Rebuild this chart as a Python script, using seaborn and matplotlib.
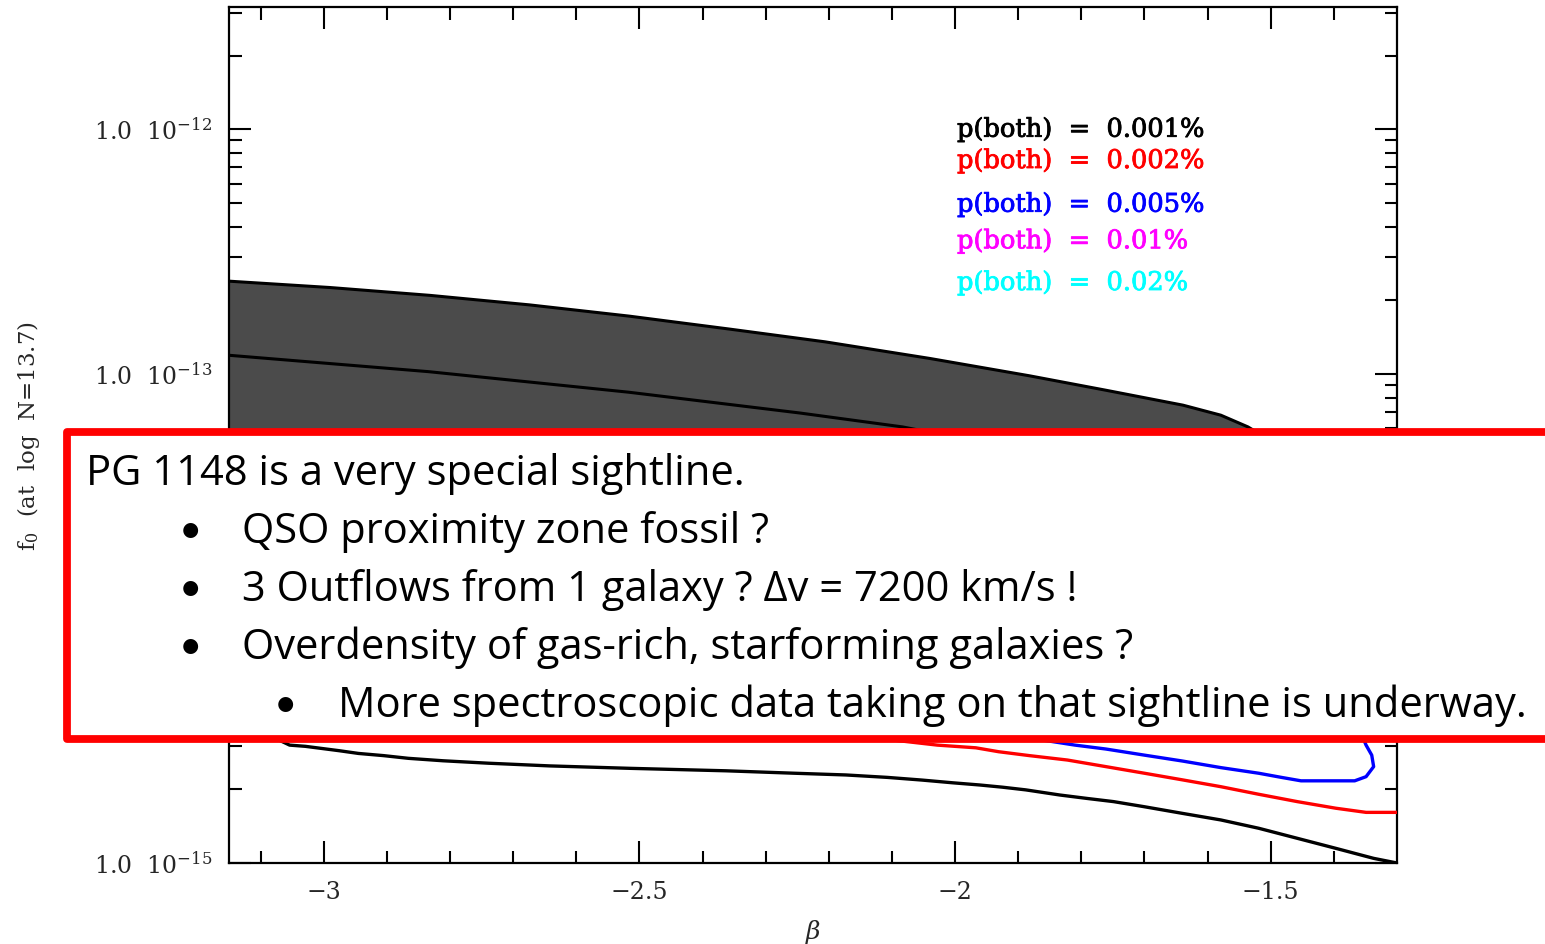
import numpy as np
import pandas as pd
import matplotlib
matplotlib.use("Agg")
import matplotlib.pyplot as plt
import matplotlib.patheffects as pe
import seaborn as sns
from matplotlib.patches import Rectangle
from matplotlib.ticker import FixedLocator, FuncFormatter, NullFormatter

# ---- data (beta, log10 f0) ----
# shaded band: upper edge and its floor
band_beta = [-3.150, -2.990, -2.832, -2.674, -2.516, -2.357, -2.206, -2.040, -1.882, -1.761,
             -1.639, -1.579, -1.536, -1.45, -1.30]
band_upper_log = [-12.621, -12.647, -12.679, -12.718, -12.764, -12.817, -12.869, -12.937, -13.008,
                  -13.067, -13.128, -13.169, -13.217, -13.35, -13.60]
band_floor_log = [-14.0] * len(band_beta)

# line inside the band
inner_beta = [-3.150, -2.834, -2.517, -2.246, -2.083, -1.80, -1.30]
inner_log = [-12.924, -12.991, -13.075, -13.160, -13.217, -13.36, -13.75]

# probability contours
black_beta = [-3.15, -3.054, -3.029, -3.005, -2.975, -2.945, -2.905, -2.866, -2.811, -2.739,
              -2.642, -2.514, -2.363, -2.254, -2.173, -2.107, -2.052, -2.004, -1.961, -1.925,
              -1.888, -1.834, -1.791, -1.749, -1.700, -1.640, -1.579, -1.519, -1.458, -1.397,
              -1.337, -1.300]
black_log = [-14.40, -14.518, -14.523, -14.531, -14.541, -14.552, -14.561, -14.572, -14.582, -14.592,
             -14.603, -14.613, -14.623, -14.633, -14.640, -14.650, -14.661, -14.672, -14.681, -14.690,
             -14.701, -14.722, -14.736, -14.749, -14.770, -14.797, -14.824, -14.858, -14.899, -14.940,
             -14.981, -15.000]

red_beta = [-2.167, -2.028, -1.967, -1.931, -1.882, -1.822, -1.761, -1.700, -1.640, -1.579,
            -1.519, -1.458, -1.397, -1.349, -1.300]
red_log = [-14.477, -14.518, -14.529, -14.545, -14.561, -14.579, -14.606, -14.633, -14.660, -14.688,
           -14.719, -14.749, -14.776, -14.793, -14.793]

blue_beta = [-1.929, -1.810, -1.761, -1.700, -1.640, -1.579, -1.519, -1.483, -1.452, -1.367,
             -1.349, -1.337, -1.340, -1.349, -1.359]
blue_log = [-14.47, -14.518, -14.534, -14.559, -14.583, -14.610, -14.633, -14.650, -14.664, -14.664,
            -14.647, -14.606, -14.559, -14.518, -14.457]

legend_labels = ["p(both)  =  0.001%", "p(both)  =  0.002%", "p(both)  =  0.005%",
                 "p(both)  =  0.01%", "p(both)  =  0.02%"]
legend_colors = ["#000000", "#ff0000", "#0000ff", "#ff00ff", "#00ffff"]

x_ticks = [-3.0, -2.5, -2.0, -1.5]
x_ticklabels = ["\u22123", "\u22122.5", "\u22122", "\u22121.5"]
x_minor = [-3.1, -2.9, -2.8, -2.7, -2.6, -2.4, -2.3, -2.2, -2.1, -1.9, -1.8, -1.7, -1.6, -1.4]
y_decades = [-15, -14, -13, -12]
y_labelled = [-15, -13, -12]   # the 1e-14 label sits behind the note box

box_title = "PG 1148 is a very special sightline."
box_bullets = ["QSO proximity zone fossil ?",
               "3 Outflows from 1 galaxy ? \u0394v = 7200 km/s !",
               "Overdensity of gas-rich, starforming galaxies ?"]
box_subbullet = "More spectroscopic data taking on that sightline is underway."

# ---- figure ----
sns.set_theme(style="ticks")
plt.rcParams["font.family"] = ["DejaVu Serif"]
plt.rcParams["mathtext.fontset"] = "dejavuserif"

W, H = 1545, 944
fig = plt.figure(figsize=(W / 100, H / 100), dpi=100, facecolor="white")
ax = fig.add_axes([229 / W, 1 - 863 / H, (1397 - 229) / W, (863 - 7) / H])
ax.set_facecolor("white")
ax.set_yscale("log")
ax.set_xlim(-3.15, -1.30)
ax.set_ylim(1e-15, 10 ** -11.5)


def to_f(logs):
    return np.power(10.0, np.asarray(logs, dtype=float))


ax.fill_between(band_beta, to_f(band_floor_log), to_f(band_upper_log),
                color="#4b4b4b", linewidth=0, zorder=1)
ax.plot(band_beta, to_f(band_upper_log), color="black", lw=2.2, zorder=2)
ax.plot(inner_beta, to_f(inner_log), color="black", lw=2.2, zorder=2)

curves = pd.concat([
    pd.DataFrame({"beta": black_beta, "f0": to_f(black_log), "level": "0.001%"}),
    pd.DataFrame({"beta": red_beta, "f0": to_f(red_log), "level": "0.002%"}),
    pd.DataFrame({"beta": blue_beta, "f0": to_f(blue_log), "level": "0.005%"}),
], ignore_index=True)
sns.lineplot(data=curves, x="beta", y="f0", hue="level", sort=False, estimator=None,
             palette={"0.001%": "#000000", "0.002%": "#ff0000", "0.005%": "#0000ff"},
             linewidth=2.4, legend=False, ax=ax, zorder=3)

# axes frame and ticks
for s in ax.spines.values():
    s.set_linewidth(1.6)
    s.set_color("black")
    s.set_visible(True)
ax.xaxis.set_major_locator(FixedLocator(x_ticks))
ax.xaxis.set_minor_locator(FixedLocator(x_minor))
ax.set_xticklabels(x_ticklabels)
y_major = [10.0 ** d for d in y_decades]
y_minor = [m * 10.0 ** d for d in y_decades for m in range(2, 10) if m * 10.0 ** d < 10 ** -11.5]
ax.yaxis.set_major_locator(FixedLocator(y_major))
ax.yaxis.set_minor_locator(FixedLocator(y_minor))


def decade_label(v, p):
    d = int(round(np.log10(v)))
    return "1.0  $10^{%d}$" % d if d in y_labelled else ""


ax.yaxis.set_major_formatter(FuncFormatter(decade_label))
ax.yaxis.set_minor_formatter(NullFormatter())
ax.tick_params(which="both", direction="in", top=True, right=True, color="black", width=1.5)
ax.tick_params(which="major", length=16, labelsize=17, pad=12)
ax.tick_params(which="minor", length=9)
ax.tick_params(axis="x", which="major", pad=13)
ax.set_xlabel(r"$\beta$", fontsize=18, labelpad=10)
ax.set_ylabel("f$_0$  (at  log  N=13.7)", fontsize=16.5)
ax.yaxis.set_label_coords(-(229 - 42) / 1168, (863 - 436) / 856)

# probability legend
leg_y = [136.7, 168.0, 211.7, 248.3, 290.0]
for lab, col, py in zip(legend_labels, legend_colors, leg_y):
    ax.text((957 - 229) / 1168, (863 - py) / 856, lab, color=col, transform=ax.transAxes,
            fontsize=18.5, ha="left", va="baseline",
            path_effects=[pe.withStroke(linewidth=0.6, foreground=col)])


# annotation box on top of the plot
def fx(px):
    return px / W


def fy(py):
    return 1 - py / H


box = Rectangle((fx(67), fy(739)), fx(1600) - fx(67), fy(431.5) - fy(739),
                transform=fig.transFigure, facecolor="white", edgecolor="#ff0000",
                linewidth=5.6, joinstyle="round", zorder=10, clip_on=False)
fig.add_artist(box)

txt_kw = dict(family="Open Sans", fontsize=30, color="black", va="baseline", zorder=11)
bul_kw = dict(family="Lato", fontsize=29, color="black", va="baseline", ha="center", zorder=11)
fig.text(fx(86), fy(485), box_title, ha="left", **txt_kw)
for i, line in enumerate(box_bullets):
    yb = 543 + 58 * i
    fig.text(fx(190), fy(yb), "\u2022", **bul_kw)
    fig.text(fx(242), fy(yb), line, ha="left", **txt_kw)
fig.text(fx(285), fy(717), "\u2022", **bul_kw)
fig.text(fx(338), fy(717), box_subbullet, ha="left", **txt_kw)

fig.savefig("out.png", dpi=100, facecolor="white")
